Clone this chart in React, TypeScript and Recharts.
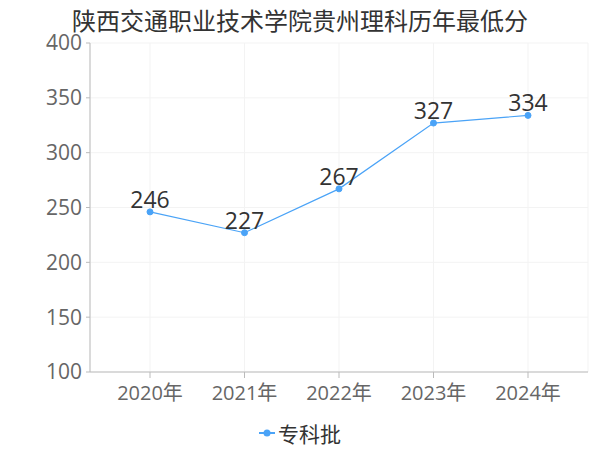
import React from 'react';
import { LineChart, Line, XAxis, YAxis, CartesianGrid, LabelList } from 'recharts';

const years = ['2020年', '2021年', '2022年', '2023年', '2024年'];
const scores = [246, 227, 267, 327, 334];
const yTicks = [100, 150, 200, 250, 300, 350, 400];

const data = years.map((year, i) => ({ year, score: scores[i] }));

const FONT = '"Open Sans", "Noto Sans CJK SC", sans-serif';
const BLUE = '#4aa3f7';

export default function App() {
  return (
    <div style={{ position: 'absolute', left: 0, top: 0, width: 600, height: 450, background: '#fff' }}>
      <div
        style={{
          position: 'absolute',
          top: 2,
          left: 0,
          width: 600,
          textAlign: 'center',
          fontFamily: FONT,
          fontSize: 24,
          color: '#333',
        }}
      >
        陕西交通职业技术学院贵州理科历年最低分
      </div>
      <LineChart width={600} height={450} data={data} margin={{ top: 43, right: 12, bottom: 48, left: 0 }}>
        <CartesianGrid stroke="#f3f3f3" />
        <XAxis
          dataKey="year"
          scale="point"
          padding={{ left: 60, right: 60 }}
          height={30}
          tick={{ fill: '#666', fontSize: 20, fontFamily: FONT }}
          tickLine={{ stroke: '#bbb' }}
          axisLine={{ stroke: '#bbb' }}
          tickMargin={8}
        />
        <YAxis
          domain={[100, 400]}
          ticks={yTicks}
          width={90}
          tick={{ fill: '#666', fontSize: 21, fontFamily: FONT }}
          tickLine={{ stroke: '#bbb' }}
          axisLine={{ stroke: '#bbb' }}
          tickSize={4}
          tickMargin={4}
        />
        <Line
          type="linear"
          dataKey="score"
          name="专科批"
          stroke={BLUE}
          strokeWidth={1.2}
          dot={{ r: 3, fill: BLUE, stroke: BLUE, strokeWidth: 1 }}
          isAnimationActive={false}
        >
          <LabelList dataKey="score" position="top" offset={4} style={{ fill: '#333', fontSize: 23, fontFamily: FONT }} />
        </Line>
      </LineChart>
      <div
        style={{
          position: 'absolute',
          top: 418,
          left: 0,
          width: 600,
          display: 'flex',
          justifyContent: 'center',
          alignItems: 'center',
          fontFamily: FONT,
        }}
      >
        <svg width={16} height={10} style={{ marginRight: 3 }}>
          <line x1={0} y1={5} x2={16} y2={5} stroke={BLUE} strokeWidth={2} />
          <circle cx={8} cy={5} r={3.5} fill={BLUE} />
        </svg>
        <span style={{ fontSize: 21, color: '#333' }}>专科批</span>
      </div>
    </div>
  );
}
